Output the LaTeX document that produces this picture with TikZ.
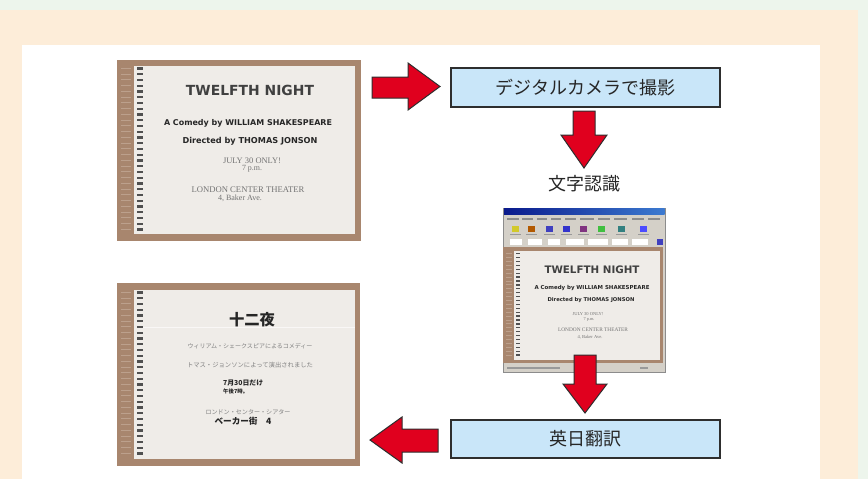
\documentclass[tikz,border=0pt]{standalone}
\usepackage{fontspec}
\usepackage{graphicx}
\setmainfont{Liberation Sans}
\newfontfamily\jpfont{Noto Sans CJK JP}
\newfontfamily\serifx{Liberation Serif}
\newfontfamily\dsans{DejaVu Sans}
\definecolor{bggreen}{HTML}{EDF5EC}
\definecolor{bgorange}{HTML}{FDEDD9}
\definecolor{slidebrown}{HTML}{A8866E}
\definecolor{brownlight}{HTML}{BCA08C}
\definecolor{panel}{HTML}{EFECE8}
\definecolor{spiral}{HTML}{505050}
\definecolor{arrowred}{HTML}{E0001E}
\definecolor{edge}{HTML}{2E2E2E}
\definecolor{boxblue}{HTML}{C9E6F9}
\definecolor{wingray}{HTML}{D4D0C8}
\definecolor{winblue}{HTML}{0A1A8C}
\definecolor{winblue2}{HTML}{3C7AD0}
\newcommand\fitw[2]{\resizebox{#1pt}{!}{#2}}
\begin{document}
\begin{tikzpicture}[x=1pt,y=-1pt,
  redarrow/.style={fill=arrowred,draw=edge,line width=1pt,line join=miter},
  bluebox/.style={draw=edge,line width=1.3pt,fill=boxblue,inner sep=0pt,
     font=\jpfont\fontsize{18}{21}\selectfont,text=black!85},
  slabel/.style={inner sep=0pt,anchor=center},
  ttl/.style={slabel,text=black!75,font=\dsans\bfseries},
  bld/.style={slabel,text=black!85,font=\dsans\bfseries},
  ser/.style={slabel,text=black!55,font=\serifx},
  jps/.style={slabel,text=black!50,font=\jpfont},
  jpb/.style={slabel,text=black!85,font=\jpfont\bfseries}]
\useasboundingbox (0,0) rectangle (868,479);
% backgrounds
\fill[bggreen] (0,0) rectangle (868,479);
\fill[bgorange] (0,10) rectangle (858,479);
\fill[white] (22,45) rectangle (820,479);

% ---------- slide 1 ----------
\fill[slidebrown] (117,60) rectangle (361,241);
\fill[panel] (134,66) rectangle (355,234);
\foreach \i in {0,...,28}{
  \fill[spiral] (137,{67.3+\i*5.75}) rectangle (143,{69.6+\i*5.75});
  \fill[brownlight] (121,{67.8+\i*5.75}) rectangle (131,{68.9+\i*5.75});
}
\node[ttl] (s1title) at (250,90) {\fitw{128}{TWELFTH NIGHT}};
\node[bld] (s1by) at (248,123) {\fitw{168}{A Comedy by WILLIAM SHAKESPEARE}};
\node[bld] (s1dir) at (250,141) {\fitw{135}{Directed by THOMAS JONSON}};
\node[ser] (s1july) at (252,161) {\fitw{58}{JULY 30 ONLY!}};
\node[ser] (s1pm) at (252,168.5) {\fitw{20}{7 p.m.}};
\node[ser] (s1lon) at (248,190) {\fitw{113}{LONDON CENTER THEATER}};
\node[ser] (s1ave) at (240,198) {\fitw{44}{4, Baker Ave.}};

% ---------- slide 2 ----------
\fill[slidebrown] (117,283) rectangle (360,466);
\fill[panel] (134,290) rectangle (355,459);
\foreach \i in {0,...,28}{
  \fill[spiral] (137,{291.3+\i*5.75}) rectangle (143,{293.6+\i*5.75});
  \fill[brownlight] (121,{291.8+\i*5.75}) rectangle (131,{292.9+\i*5.75});
}
\draw[white!60!panel,line width=0.5pt] (143,327) -- (355,327);
\node[jpb] (s2title) at (252,320) {\fitw{46}{十二夜}};
\node[jps] (s2by) at (250,346) {\fitw{125}{ウィリアム・シェークスピアによるコメディー}};
\node[jps] (s2dir) at (250,365) {\fitw{126}{トマス・ジョンソンによって演出されました}};
\node[jpb,anchor=west] (s2july) at (223,383) {\fitw{40}{7月30日だけ}};
\node[jpb,anchor=west] (s2pm) at (223,391) {\fitw{25}{午後7時。}};
\node[jps] (s2lon) at (248,412) {\fitw{85}{ロンドン・センター・シアター}};
\node[jpb] (s2ave) at (243,421) {\fitw{57}{ベーカー街　4}};

% ---------- screenshot ----------
\fill[wingray] (503,208) rectangle (665,372);
\draw[black!45,line width=0.5pt] (503,208) rectangle (665,372);
\shade[left color=winblue,right color=winblue2] (504,208.5) rectangle (664.5,214);
\foreach \x/\w in {507/12,522/11,537/10,551/10,565/11,580/14,598/12,614/13,632/12,648/12}
  \fill[black!45] (\x,217.5) rectangle ({\x+\w},219.5);
\foreach \x/\c in {512/yellow!80!black,528/orange!70!black,546/blue!50!gray,563/blue!60!gray,580/violet!60!gray,598/green!50!gray,618/teal!60!gray,640/blue!70!white}{
  \fill[\c] (\x,226) rectangle ({\x+7},232);
  \fill[black!40] ({\x-2},233.5) rectangle ({\x+9},235);
}
\foreach \x/\w in {510/12,528/14,548/12,566/18,588/20,612/16,632/16}
  \fill[white] (\x,239) rectangle ({\x+\w},245);
\fill[blue!50!gray] (657,239) rectangle (663,245);
% document
\fill[slidebrown] (503,247) rectangle (663,363);
\fill[panel] (514,251) rectangle (660,360);
\foreach \i in {0,...,26}{
  \fill[spiral] (516,{253+\i*3.9}) rectangle (520,{254.3+\i*3.9});
  \fill[brownlight] (505.5,{253.2+\i*3.9}) rectangle (512,{253.9+\i*3.9});
}
\node[ttl] (d1title) at (592,270) {\fitw{95}{TWELFTH NIGHT}};
\node[bld] (d1by) at (592,288) {\fitw{115}{A Comedy by WILLIAM SHAKESPEARE}};
\node[bld] (d1dir) at (591,300) {\fitw{87}{Directed by THOMAS JONSON}};
\node[ser] (d1july) at (588,314) {\fitw{31}{JULY 30 ONLY!}};
\node[ser] (d1pm) at (589,319.5) {\fitw{11}{7 p.m.}};
\node[ser] (d1lon) at (593,330) {\fitw{70}{LONDON CENTER THEATER}};
\node[ser] (d1ave) at (590,337) {\fitw{25}{4, Baker Ave.}};
\fill[black!40] (507,366.5) rectangle (560,368.5);
\fill[black!40] (640,366.5) rectangle (648,368.5);

% ---------- boxes ----------
\node[bluebox,minimum width=269pt,minimum height=39pt] (cam) at (585.5,87.5) {デジタルカメラで撮影};
\node[bluebox,minimum width=269pt,minimum height=38pt] (trans) at (585.5,439) {英日翻訳};
\node[inner sep=0pt,font=\jpfont\fontsize{18}{21}\selectfont,text=black!85] (ocr) at (584,184) {文字認識};

% ---------- arrows ----------
\draw[redarrow] (372,77) -- (408,77) -- (408,63) -- (440,86.5) -- (408,110) -- (408,98) -- (372,98) -- cycle;
\draw[redarrow] (573,111) -- (595,111) -- (595,135) -- (607,135) -- (584,168) -- (561,135) -- (573,135) -- cycle;
\draw[redarrow] (574,355) -- (596,355) -- (596,384) -- (607,384) -- (585,413) -- (563,384) -- (574,384) -- cycle;
\draw[redarrow] (438,429) -- (402,429) -- (402,417) -- (370,440) -- (402,463) -- (402,452) -- (438,452) -- cycle;
\end{tikzpicture}
\end{document}
